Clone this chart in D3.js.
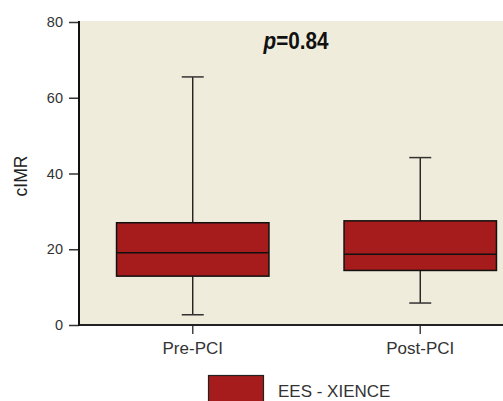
<!DOCTYPE html>
<html><head><meta charset="utf-8">
<script src="https://cdn.jsdelivr.net/npm/d3@7"></script>
<style>body{margin:0;background:#fff}svg{display:block}</style>
</head><body>
<svg id="c" width="503" height="401"></svg>
<script>
const categories = ["Pre-PCI", "Post-PCI"];
const whiskerLow = [2.7, 5.8];
const q1 = [12.9, 14.4];
const median = [19.1, 18.7];
const q3 = [27.0, 27.5];
const whiskerHigh = [65.5, 44.2];
const yTicks = [0, 20, 40, 60, 80];
const yLabel = "cIMR";
const pText = "=0.84";
const legendLabel = "EES - XIENCE";

(function () {
const svg = d3.select("#c");
const pL = 79, pT = 21, pB = 325, pR = 503;
const y = d3.scaleLinear().domain([0, 80]).range([pB, 22]);
const x = d3.scaleBand().domain(categories).range([pL, 534]).paddingInner(0.33).paddingOuter(0.165);
const fill = "#a61b1b";
const bg = "#f0ecdb";
const sans = "'Liberation Sans',Arial,sans-serif";

svg.append("rect").attr("x", pL).attr("y", pT).attr("width", pR - pL).attr("height", pB - pT).attr("fill", bg);

// y axis
const ya = svg.append("g").attr("transform", `translate(${pL},0)`)
  .call(d3.axisLeft(y).tickValues(yTicks).tickSize(10).tickPadding(6).tickFormat(d3.format("d")));
ya.select(".domain").remove();
ya.selectAll(".tick line").attr("stroke", "#333").attr("stroke-width", 1.5);
ya.selectAll(".tick text").attr("font-family", sans).attr("font-size", 14.5).attr("fill", "#333");

// x axis
const xa = svg.append("g").attr("transform", `translate(0,${pB})`)
  .call(d3.axisBottom(x).tickSize(9).tickPadding(8));
xa.select(".domain").remove();
xa.selectAll(".tick line").attr("stroke", "#444").attr("stroke-width", 1.5);
xa.selectAll(".tick text").attr("font-family", sans).attr("font-size", 17).attr("fill", "#333");

svg.append("line").attr("x1", pL).attr("x2", pR).attr("y1", pB).attr("y2", pB).attr("stroke", "#222").attr("stroke-width", 2);
svg.append("line").attr("x1", pL).attr("x2", pL).attr("y1", pT).attr("y2", pB + 1).attr("stroke", "#111").attr("stroke-width", 2);

// boxes
const bw = x.bandwidth();
categories.forEach((c, i) => {
  const cx = x(c) + bw / 2;
  const g = svg.append("g");
  const cap = 11;
  g.append("line").attr("x1", cx).attr("x2", cx).attr("y1", y(whiskerHigh[i])).attr("y2", y(q3[i])).attr("stroke", "#111").attr("stroke-width", 1.3);
  g.append("line").attr("x1", cx).attr("x2", cx).attr("y1", y(q1[i])).attr("y2", y(whiskerLow[i])).attr("stroke", "#111").attr("stroke-width", 1.3);
  g.append("line").attr("x1", cx - cap).attr("x2", cx + cap).attr("y1", y(whiskerHigh[i])).attr("y2", y(whiskerHigh[i])).attr("stroke", "#333").attr("stroke-width", 1.5);
  g.append("line").attr("x1", cx - cap).attr("x2", cx + cap).attr("y1", y(whiskerLow[i])).attr("y2", y(whiskerLow[i])).attr("stroke", "#333").attr("stroke-width", 1.5);
  g.append("rect").attr("x", x(c)).attr("y", y(q3[i])).attr("width", bw).attr("height", y(q1[i]) - y(q3[i]))
    .attr("fill", fill).attr("stroke", "#111").attr("stroke-width", 1.5);
  g.append("line").attr("x1", x(c)).attr("x2", x(c) + bw).attr("y1", y(median[i])).attr("y2", y(median[i])).attr("stroke", "#111").attr("stroke-width", 1.5);
});

// p value (condensed bold)
const pt = svg.append("text").attr("transform", "translate(296,49) scale(0.9,1)").attr("text-anchor", "middle")
  .attr("font-family", sans).attr("font-weight", "bold").attr("font-size", 23).attr("fill", "#111");
pt.append("tspan").attr("font-style", "italic").text("p");
pt.append("tspan").text(pText);

// y label
svg.append("text").attr("transform", "translate(27,176) rotate(-90)").attr("text-anchor", "middle")
  .attr("font-family", sans).attr("font-size", 17.5).attr("fill", "#222").text(yLabel);

// legend
svg.append("rect").attr("x", 208.5).attr("y", 375.5).attr("width", 55).attr("height", 30).attr("fill", fill).attr("stroke", "#222").attr("stroke-width", 1.2);
svg.append("text").attr("x", 278).attr("y", 397).attr("font-family", sans).attr("font-size", 17).attr("fill", "#333").text(legendLabel);
})();
</script>
</body></html>
